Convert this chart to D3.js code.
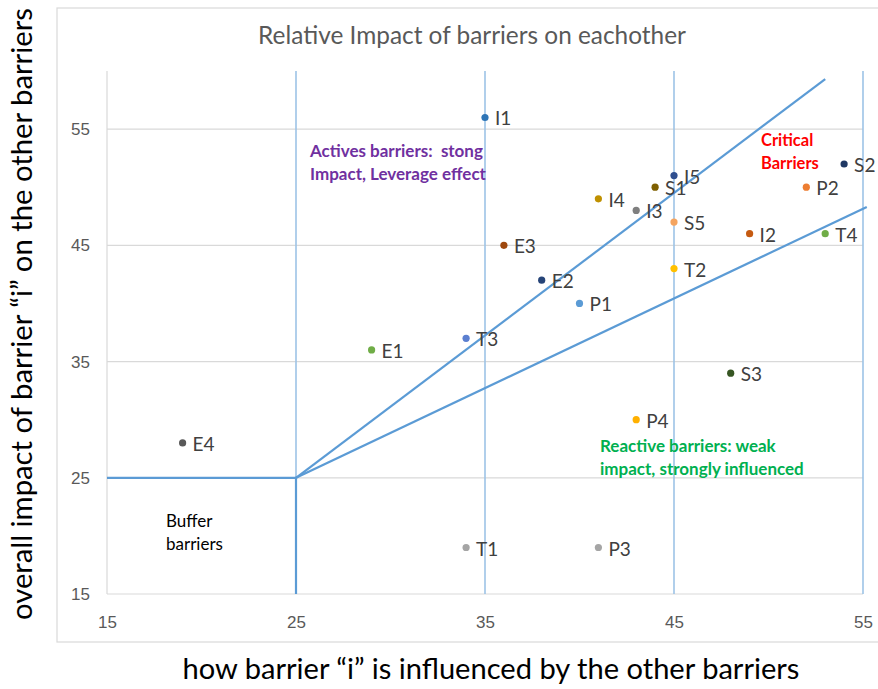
<!DOCTYPE html>
<meta charset="utf-8">
<style>
body { margin: 0; background: #fff; }
svg { font-family: Lato, "Open Sans", sans-serif; }
.tick text { fill: #595959; font-size: 17px; }
.ann { font-weight: bold; white-space: pre; }
.lbl { fill: #404040; font-size: 19px; }
</style>
<body>
<svg></svg>
<script src="https://d3js.org/d3.v7.min.js"></script>
<script>

// barriers
var labels = ["I1","I5","S1","I4","I3","S5","E3","I2","T4","S2","P2","T2","E2","P1","T3","E1","S3","P4","E4","T1","P3"];
var xVals  = [35, 45, 44, 41, 43, 45, 36, 49, 53, 54, 52, 45, 38, 40, 34, 29, 48, 43, 19, 34, 41];
var yVals  = [56, 51, 50, 49, 48, 47, 45, 46, 46, 52, 50, 43, 42, 40, 37, 36, 34, 30, 28, 19, 19];
var colors = ["#2e75b6","#2f4f8f","#7f6000","#bf9000","#7f7f7f","#f4a460","#9e480e","#c55a11","#70ad47","#1f3864",
              "#ed7d31","#ffc000","#264478","#5b9bd5","#5b7fd0","#70ad47","#375623","#ffb000","#595959","#a5a5a5","#a5a5a5"];

var xTicks = [15, 25, 35, 45, 55];
var yTicks = [15, 25, 35, 45, 55];

// quadrant separators
var vLines = [25, 35, 45, 55];
var bufferH = [[15, 25], [25, 25]];
var bufferV = [[25, 15], [25, 25]];
var diagHigh = [[25, 25], [53, 59.3]];
var diagLow = [[25, 25], [55.2, 48.3]];

var W = 878, H = 689;

var svg = d3.select("svg").attr("width", W).attr("height", H);

svg.append("rect")
    .attr("x", 57).attr("y", 8)
    .attr("width", 840).attr("height", 634)
    .attr("fill", "#fff").attr("stroke", "#d9d9d9").attr("stroke-width", 1.2);

var x = d3.scaleLinear().domain([15, 55]).range([107, 863]);
var y = d3.scaleLinear().domain([15, 60]).range([594, 71]);

// gridlines
svg.append("g").selectAll("line")
    .data(yTicks.filter(function(d) { return d > 15; }))
    .enter().append("line")
    .attr("x1", x(15)).attr("x2", x(55))
    .attr("y1", function(d) { return y(d); })
    .attr("y2", function(d) { return y(d); })
    .attr("stroke", "#d9d9d9").attr("stroke-width", 1.2);

// axis lines
svg.append("line")
    .attr("x1", x(15)).attr("x2", x(55)).attr("y1", y(15)).attr("y2", y(15))
    .attr("stroke", "#d9d9d9").attr("stroke-width", 1.2);
svg.append("line")
    .attr("x1", x(15)).attr("x2", x(15)).attr("y1", y(15)).attr("y2", y(60))
    .attr("stroke", "#d9d9d9").attr("stroke-width", 1.2);

var xAxis = svg.append("g")
    .attr("transform", "translate(0," + y(15) + ")")
    .call(d3.axisBottom(x).tickValues(xTicks).tickSize(0).tickPadding(22));
xAxis.select(".domain").remove();

var yAxis = svg.append("g")
    .attr("transform", "translate(" + x(15) + ",0)")
    .call(d3.axisLeft(y).tickValues(yTicks).tickSize(0).tickPadding(17));
yAxis.select(".domain").remove();

// separators
svg.append("g").selectAll("line")
    .data(vLines)
    .enter().append("line")
    .attr("x1", function(d) { return x(d); })
    .attr("x2", function(d) { return x(d); })
    .attr("y1", y(15)).attr("y2", y(60))
    .attr("stroke", "#9dc3e6").attr("stroke-width", 1.6);

var line = d3.line()
    .x(function(d) { return x(d[0]); })
    .y(function(d) { return y(d[1]); });

[bufferH, bufferV, diagHigh, diagLow].forEach(function(seg) {
  svg.append("path")
      .attr("d", line(seg))
      .attr("fill", "none")
      .attr("stroke", "#5b9bd5")
      .attr("stroke-width", 2.2);
});

// points
var pts = svg.append("g").selectAll("g")
    .data(labels)
    .enter().append("g");

pts.append("circle")
    .attr("cx", function(d, i) { return x(xVals[i]); })
    .attr("cy", function(d, i) { return y(yVals[i]); })
    .attr("r", 3.6)
    .attr("fill", function(d, i) { return colors[i]; });

pts.append("text")
    .attr("class", "lbl")
    .attr("x", function(d, i) { return x(xVals[i]) + 10; })
    .attr("y", function(d, i) { return y(yVals[i]) + 8; })
    .text(function(d) { return d; });

// annotations
function note(lines, px, py, color, weight, size) {
  var t = svg.append("text").attr("class", "ann")
      .attr("fill", color)
      .style("font-weight", weight)
      .style("font-size", size + "px");
  lines.forEach(function(s, i) {
    t.append("tspan").attr("x", px).attr("y", py + i * 22.5).text(s);
  });
}
note(["Actives barriers:  stong", "Impact, Leverage effect"], 310, 157, "#7030a0", "bold", 17);
note(["Critical", "Barriers"], 761, 146, "#ff0000", "bold", 16.5);
note(["Reactive barriers: weak", "impact, strongly influenced"], 600, 452, "#00b050", "bold", 17);
note(["Buffer", "barriers"], 166, 527, "#000000", "normal", 17);

// titles, sized to the reference widths
function fit(sel, target) {
  var w = sel.node().getComputedTextLength();
  var fs = parseFloat(sel.style("font-size"));
  sel.style("font-size", (fs * target / w) + "px");
}

var title = svg.append("text")
    .attr("x", 472).attr("y", 44)
    .attr("text-anchor", "middle")
    .attr("fill", "#595959")
    .style("font-size", "19px")
    .text("Relative Impact of barriers on eachother");
fit(title, 428);

var xTitle = svg.append("text")
    .attr("x", 491).attr("y", 679)
    .attr("text-anchor", "middle")
    .attr("fill", "#000")
    .style("font-size", "24px")
    .text("how barrier \u201ci\u201d is influenced by the other barriers");
fit(xTitle, 617);

var yTitle = svg.append("text")
    .attr("transform", "translate(32,314) rotate(-90)")
    .attr("text-anchor", "middle")
    .attr("fill", "#000")
    .style("font-size", "24px")
    .text("overall impact of barrier \u201ci\u201d on the other barriers");
fit(yTitle, 612);

</script>
